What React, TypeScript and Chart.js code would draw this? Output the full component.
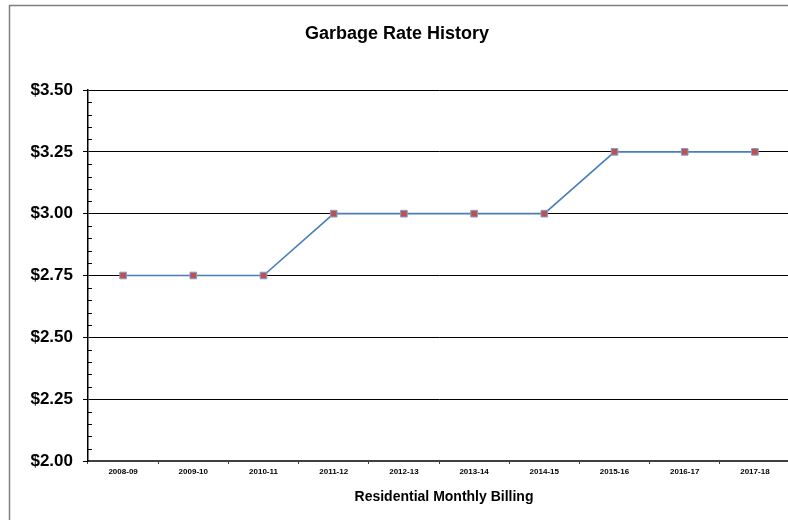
import React, { useEffect, useRef } from "react";
import { Chart, registerables } from "chart.js";

Chart.register(...registerables);

const categories = ["2008-09", "2009-10", "2010-11", "2011-12", "2012-13", "2013-14", "2014-15", "2015-16", "2016-17", "2017-18"];
const rates = [2.75, 2.75, 2.75, 3.0, 3.0, 3.0, 3.0, 3.25, 3.25, 3.25];
const chartTitle = "Garbage Rate History";
const xAxisTitle = "Residential Monthly Billing";
const yMin = 2.0;
const yMax = 3.5;
const yStep = 0.25;
const yMinorStep = 0.05;

const FONT = "'Liberation Sans', Arial, Helvetica, sans-serif";

const decorPlugin = {
  id: "decor",
  beforeDraw(chart: any) {
    const ctx = chart.ctx;
    ctx.save();
    ctx.fillStyle = "#ffffff";
    ctx.fillRect(0, 0, chart.width, chart.height);
    ctx.strokeStyle = "#7f7f7f";
    ctx.lineWidth = 1.5;
    ctx.strokeRect(9.5, 5.5, 1000, 1000);
    ctx.fillStyle = "#000000";
    ctx.font = `bold 18px ${FONT}`;
    ctx.textAlign = "center";
    ctx.textBaseline = "middle";
    ctx.fillText(chartTitle, 397, 34);
    ctx.font = `bold 14px ${FONT}`;
    ctx.fillText(xAxisTitle, 444, 497);
    ctx.restore();
  },
  afterDraw(chart: any) {
    const ctx = chart.ctx;
    const y = chart.scales.y;
    const left = chart.chartArea.left;
    ctx.save();
    ctx.strokeStyle = "#000000";
    ctx.lineWidth = 1;
    const n = Math.round((yMax - yMin) / yMinorStep);
    const every = Math.round(yStep / yMinorStep);
    for (let i = 0; i <= n; i++) {
      if (i % every === 0) continue;
      const py = Math.round(y.getPixelForValue(yMin + i * yMinorStep)) + 0.5;
      ctx.beginPath();
      ctx.moveTo(left, py);
      ctx.lineTo(left + 4, py);
      ctx.stroke();
    }
    ctx.restore();
  },
};

export default function App() {
  const ref = useRef<HTMLCanvasElement | null>(null);
  useEffect(() => {
    if (!ref.current) return;
    const chart = new Chart(ref.current, {
      type: "line",
      data: {
        labels: categories,
        datasets: [
          {
            data: rates,
            borderColor: "#4a7ebb",
            borderWidth: 1.6,
            backgroundColor: "#c0504d",
            pointStyle: "rect",
            pointRadius: 4.7,
            pointBorderColor: "#7f9fd0",
            pointBorderWidth: 1,
            pointBackgroundColor: "#c0504d",
            tension: 0,
          },
        ],
      },
      options: {
        animation: false,
        responsive: false,
        devicePixelRatio: 1,
        layout: { padding: { top: 90, right: 10, bottom: 19, left: 0 } },
        plugins: { legend: { display: false }, title: { display: false }, tooltip: { enabled: false } },
        scales: {
          x: {
            type: "category",
            offset: true,
            afterFit: (s: any) => {
              s.height = 60;
            },
            grid: { display: true, offset: true, drawOnChartArea: false, drawTicks: true, tickLength: 3, color: "#404040" },
            border: { display: true, color: "#404040", width: 2 },
            ticks: { color: "#000000", font: { family: FONT, size: 8, weight: "bold" }, padding: 3, maxRotation: 0, autoSkip: false },
          },
          y: {
            min: yMin,
            max: yMax,
            afterFit: (s: any) => {
              s.width = 88;
            },
            grid: { color: "#000000", lineWidth: 1, drawTicks: true, tickLength: 5 },
            border: { display: true, color: "#000000", width: 1.5 },
            ticks: {
              stepSize: yStep,
              color: "#000000",
              padding: 10,
              font: { family: FONT, size: 17, weight: "bold" },
              callback: (v: any) => "$" + Number(v).toFixed(2),
            },
          },
        },
      },
      plugins: [decorPlugin],
    } as any);
    return () => chart.destroy();
  }, []);
  return (
    <div style={{ position: "fixed", left: 0, top: 0, width: 788, height: 520, overflow: "hidden", background: "#fff" }}>
      <canvas ref={ref} width={800} height={540} style={{ display: "block" }} />
    </div>
  );
}
